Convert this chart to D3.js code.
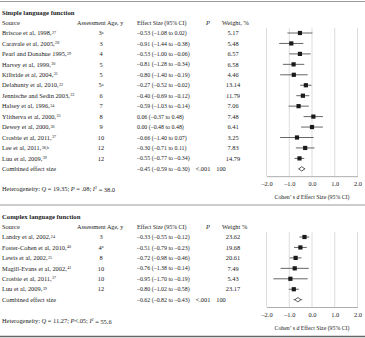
<!DOCTYPE html>
<html><head><meta charset="utf-8">
<script src="https://cdn.jsdelivr.net/npm/d3@7"></script>
<style>
body{margin:0;background:#fff;}
svg{display:block;font-family:"Liberation Serif","Times New Roman",serif;}
</style></head>
<body>
<svg id="c" width="365" height="338"></svg>
<script>
// ---------- DATA ----------
const simpleSources = ["Briscoe et al, 1998,","Caravale et al, 2005,","Pearl and Donahue 1995,","Harvey et al, 1999,","Kilbride et al, 2004,","Delahunty et al, 2010,","Jennische and Sedin 2003,","Halsey et al, 1996,","Ylitherva et al, 2000,","Dewey et al, 2000,","Crosbie et al, 2011,","Lee et al, 2011,","Luu et al, 2009,"];
const simpleRefs = ["27","28","29","30","31","32","33","34","35","36","37","38,b","39"];
const simpleAges = ["3","3","4","5","5","5","6","7","8","9","10","12","12"];
const simpleAgeNotes = ["a","","","","","a","","","","","","",""];
const simpleEffect = [-0.53,-0.91,-0.53,-0.81,-0.80,-0.27,-0.40,-0.59,0.06,0.00,-0.66,-0.30,-0.55];
const simpleLower = [-1.08,-1.44,-1.00,-1.28,-1.40,-0.52,-0.69,-1.03,-0.37,-0.48,-1.40,-0.71,-0.77];
const simpleUpper = [0.02,-0.38,-0.06,-0.34,-0.19,-0.02,-0.12,-0.14,0.48,0.48,0.07,0.11,-0.34];
const simpleWeights = ["5.17","5.48","6.57","6.58","4.46","13.14","11.79","7.06","7.48","6.41","3.25","7.83","14.79"];
const simpleCombined = [-0.45,-0.59,-0.30];
const simpleHet = ["19.35"," = .08","38.0"];

const complexSources = ["Landry et al, 2002,","Foster-Cohen et al, 2010,","Lewis et al, 2002,","Magill-Evans et al, 2002,","Crosbie et al, 2011,","Luu et al, 2009,"];
const complexRefs = ["24","40","25","41","37","39"];
const complexAges = ["3","4","8","10","10","12"];
const complexAgeNotes = ["","a","","","",""];
const complexEffect = [-0.33,-0.51,-0.72,-0.76,-0.95,-0.80];
const complexLower = [-0.55,-0.79,-0.98,-1.38,-1.70,-1.02];
const complexUpper = [-0.12,-0.23,-0.46,-0.14,-0.19,-0.58];
const complexWeights = ["23.62","19.68","20.61","7.49","5.43","23.17"];
const complexCombined = [-0.62,-0.82,-0.43];
const complexHet = ["11.27","<.05","55.6"];

const axisTicks = [-2,-1,0,1,2];
const combinedP = "<.001";
const combinedWeight = "100";

// ---------- DRAW ----------
const svg = d3.select("#c");
const FS = 6.4;
const FE = 5.9;
const ink = "#222";
const fmt = v => d3.format(".2f")(v).replace("−","–").replace("-","–");
const x = d3.scaleLinear().domain([-2,2]).range([266.5,357.5]);

// horizontal rules
[[1.5,"#9a9a9a",1.2],[205,"#9a9a9a",1.2],[336.5,"#666",1.5]].forEach(([yy,c,w])=>{
  svg.append("line").attr("x1",0).attr("x2",365).attr("y1",yy).attr("y2",yy).attr("stroke",c).attr("stroke-width",w);
});

function panel(cfg){
  const n = cfg.sources.length;
  const y = d3.scaleLinear().domain([0,1]).range([cfg.row0, cfg.row0+10.45]);
  const g = svg.append("g");
  const txt = (xx,yy,s,opt={}) => g.append("text").attr("x",xx).attr("y",yy).attr("dy","0.35em")
      .attr("font-size",opt.fs||FS).attr("fill",ink).attr("text-anchor",opt.anchor||"start")
      .attr("font-weight",opt.bold?"bold":null).attr("font-style",opt.italic?"italic":null).text(s);

  txt(2, y(-2)+0.5, cfg.title, {bold:true, fs:6.7});
  txt(2, y(-1), "Source");
  txt(77, y(-1), "Assessment Age, y", {fs:FE+0.2});
  txt(137, y(-1), "Effect Size (95% CI)", {fs:FE});
  txt(206, y(-1), "P", {italic:true});
  txt(222, y(-1), cfg.weightHead);

  // grid
  const yTop = y(-0.5), yAxis = y(n+0.7);
  g.selectAll("line.grid").data(axisTicks).enter().append("line")
    .attr("x1",d=>x(d)).attr("x2",d=>x(d)).attr("y1",yTop).attr("y2",yAxis)
    .attr("stroke","#d4d4d4").attr("stroke-width",0.8);

  cfg.sources.forEach((s,i)=>{
    const t = txt(2, y(i), s);
    t.append("tspan").attr("font-size",4.1).attr("dy","-0.4em").attr("dx",0.4).text(cfg.refs[i]);
    const a = txt(101, y(i), cfg.ages[i], {anchor:"middle"});
    if(cfg.ageNotes[i]) a.append("tspan").attr("font-size",4.1).attr("dy","-0.4em").text(cfg.ageNotes[i]);
    txt(137, y(i), `${fmt(cfg.effect[i])} (${fmt(cfg.lower[i])} to ${fmt(cfg.upper[i])})`, {fs:FE});
    txt(233, y(i), cfg.weights[i], {anchor:"middle"});
  });
  txt(2, y(n), "Combined effect size");
  txt(137, y(n), `${fmt(cfg.combined[0])} (${fmt(cfg.combined[1])} to ${fmt(cfg.combined[2])})`, {fs:FE});
  txt(203, y(n), combinedP, {anchor:"middle"});
  txt(221, y(n), combinedWeight, {anchor:"middle"});

  // heterogeneity
  const h = txt(2, y(n)+cfg.hetOff, "Heterogeneity: ");
  h.append("tspan").attr("font-style","italic").text("Q");
  h.append("tspan").text(" = "+cfg.het[0]+"; ");
  h.append("tspan").attr("font-style","italic").text("P");
  h.append("tspan").text(cfg.het[1]+"; ");
  h.append("tspan").attr("font-style","italic").text("I");
  h.append("tspan").attr("font-size",4.1).attr("dy","-0.4em").text("2");
  h.append("tspan").attr("dy","0.4em").text(" = "+cfg.het[2]);

  // CIs and markers
  const pts = g.selectAll("g.pt").data(cfg.effect).enter().append("g");
  pts.append("line").attr("x1",(d,i)=>x(cfg.lower[i])).attr("x2",(d,i)=>x(cfg.upper[i]))
    .attr("y1",(d,i)=>y(i)).attr("y2",(d,i)=>y(i)).attr("stroke","#555").attr("stroke-width",0.9);
  pts.append("rect").attr("x",d=>x(d)-2.1).attr("y",(d,i)=>y(i)-2.1).attr("width",4.2).attr("height",4.2).attr("fill","#1a1a1a");

  const cy = y(n);
  g.append("line").attr("x1",x(cfg.combined[1])).attr("x2",x(cfg.combined[2])).attr("y1",cy).attr("y2",cy)
    .attr("stroke","#555").attr("stroke-width",0.9);
  const cx = x(cfg.combined[0]);
  g.append("path").attr("d",`M${cx-3},${cy}L${cx},${cy-2.2}L${cx+3},${cy}L${cx},${cy+2.2}Z`)
    .attr("fill","#fff").attr("stroke","#333").attr("stroke-width",0.8);

  // axis
  const ax = g.append("g").attr("transform",`translate(0,${yAxis})`)
    .call(d3.axisBottom(x).tickValues(axisTicks).tickSize(0).tickPadding(5).tickFormat(d=>d3.format(".1f")(d).replace("−","–")));
  ax.select(".domain").attr("stroke","#999").attr("stroke-width",0.8);
  ax.selectAll("text").attr("font-size",FS).attr("fill",ink).attr("font-family","Liberation Serif, serif");
  const at = g.append("text").attr("x",x(0)).attr("y",yAxis+23).attr("text-anchor","middle")
    .attr("font-size",5.8).attr("fill",ink);
  at.append("tspan").text("Cohen’ s ");
  at.append("tspan").attr("font-style","italic").text("d");
  at.append("tspan").text(" Effect Size (95% CI)");
}

panel({title:"Simple language function", weightHead:"Weight, %", row0:33, sources:simpleSources, refs:simpleRefs,
  ages:simpleAges, ageNotes:simpleAgeNotes, effect:simpleEffect, lower:simpleLower, upper:simpleUpper,
  weights:simpleWeights, combined:simpleCombined, het:simpleHet, hetOff:20});
panel({title:"Complex language function", weightHead:"Weight %", row0:237, sources:complexSources, refs:complexRefs,
  ages:complexAges, ageNotes:complexAgeNotes, effect:complexEffect, lower:complexLower, upper:complexUpper,
  weights:complexWeights, combined:complexCombined, het:complexHet, hetOff:21});
</script>
</body></html>
